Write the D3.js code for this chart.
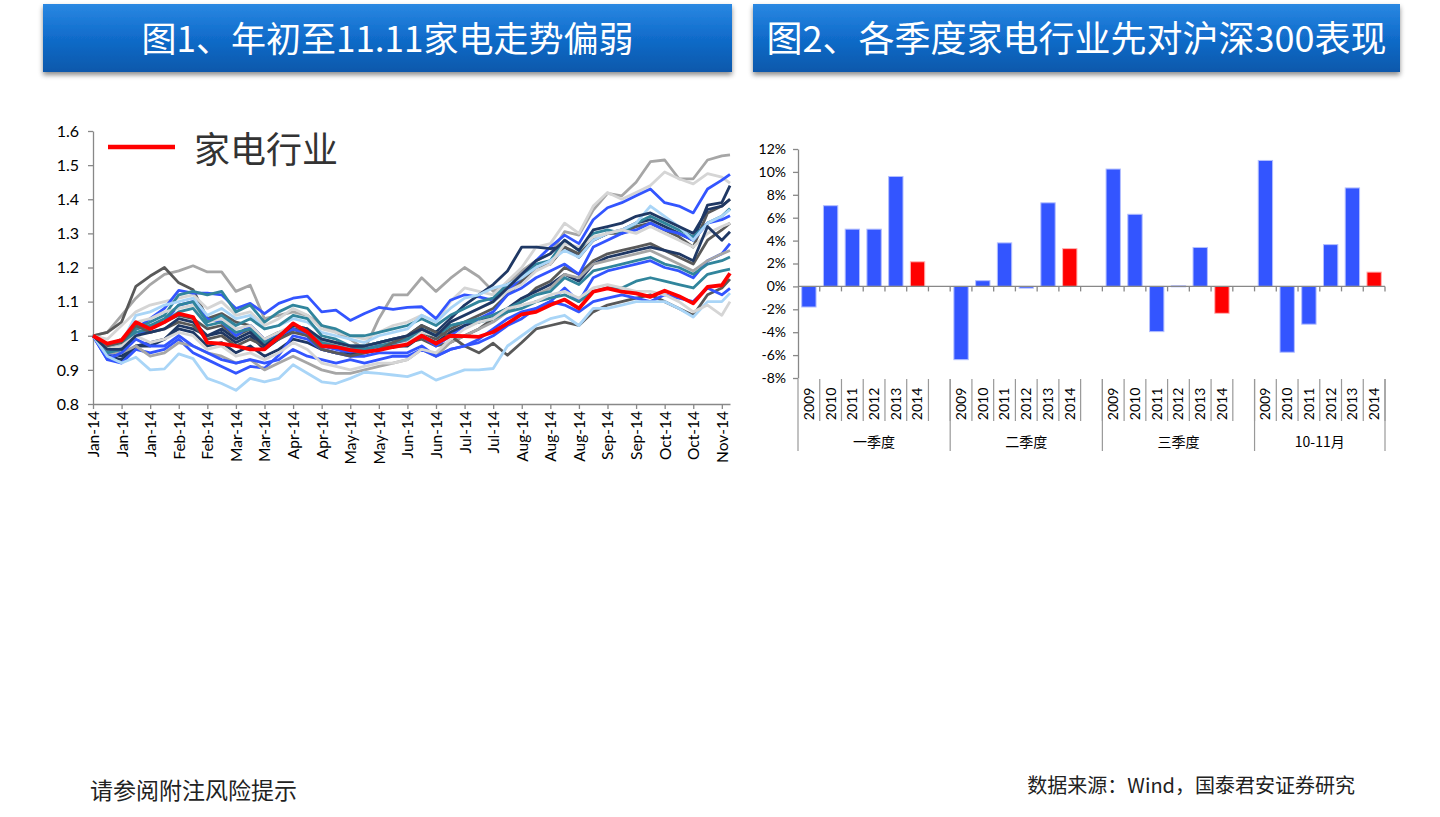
<!DOCTYPE html>
<html>
<head>
<meta charset="utf-8">
<script src="https://cdn.jsdelivr.net/npm/d3@7"></script>
<style>
  body { margin: 0; background: #fff; }
  svg { display: block; }
  .num { font-family: Lato, "Noto Sans", sans-serif; }
  .cjk { font-family: "Noto Sans CJK SC", sans-serif; }
</style>
</head>
<body>
<div id="vis"></div>
<script>
// ---- chart 1 data: weekly index, 2014-01-03 .. 2014-11-11 ----
const weekDates = [
  "2014-01-03","2014-01-10","2014-01-17","2014-01-24","2014-01-31","2014-02-07","2014-02-14","2014-02-21",
  "2014-02-28","2014-03-07","2014-03-14","2014-03-21","2014-03-28","2014-04-04","2014-04-11","2014-04-18",
  "2014-04-25","2014-05-02","2014-05-09","2014-05-16","2014-05-23","2014-05-30","2014-06-06","2014-06-13",
  "2014-06-20","2014-06-27","2014-07-04","2014-07-11","2014-07-18","2014-07-25","2014-08-01","2014-08-08",
  "2014-08-15","2014-08-22","2014-08-29","2014-09-05","2014-09-12","2014-09-19","2014-09-26","2014-10-03",
  "2014-10-10","2014-10-17","2014-10-24","2014-10-31","2014-11-07","2014-11-11"
];
const yTicks1 = [0.8, 0.9, 1.0, 1.1, 1.2, 1.3, 1.4, 1.5, 1.6];

const homeAppliance = [
  1.000,0.977,0.987,1.040,1.020,1.040,1.065,1.055,0.980,0.977,
  0.970,0.960,0.960,0.997,1.036,1.011,0.970,0.967,0.958,0.953,
  0.958,0.967,0.975,1.000,0.977,1.000,0.999,0.997,1.011,1.036,
  1.063,1.070,1.090,1.106,1.080,1.129,1.139,1.129,1.124,1.114,
  1.132,1.116,1.095,1.143,1.148,1.183
];

const otherSeries = [
  { color: "#a6a6a6", values: [
    1.00,1.01,1.06,1.11,1.15,1.18,1.19,1.205,1.187,1.187,
    1.13,1.148,1.05,1.06,1.07,1.06,1.03,1.01,0.99,0.96,
    1.05,1.12,1.12,1.17,1.13,1.168,1.20,1.173,1.13,1.15,
    1.19,1.22,1.24,1.305,1.295,1.368,1.417,1.41,1.45,1.51,
    1.515,1.46,1.46,1.515,1.527,1.53] },
  { color: "#595959", values: [
    1.00,1.01,1.04,1.145,1.175,1.20,1.155,1.135,1.05,1.065,
    1.04,1.03,0.99,1.01,1.02,1.01,0.99,0.98,0.97,0.96,
    0.97,0.97,0.98,0.99,0.97,0.98,1.00,1.02,1.05,1.07,
    1.10,1.14,1.16,1.20,1.18,1.22,1.24,1.25,1.26,1.27,
    1.25,1.23,1.21,1.28,1.31,1.33] },
  { color: "#d5d5d5", values: [
    1.00,0.99,1.03,1.07,1.09,1.10,1.11,1.12,1.08,1.10,
    1.06,1.07,1.03,1.05,1.08,1.06,1.02,1.01,1.00,0.99,
    1.01,1.03,1.04,1.06,1.04,1.10,1.14,1.13,1.12,1.16,
    1.20,1.26,1.27,1.33,1.30,1.38,1.42,1.40,1.42,1.44,
    1.48,1.46,1.445,1.475,1.465,1.447] },
  { color: "#3355ff", values: [
    1.00,0.95,0.97,1.02,1.05,1.08,1.133,1.125,1.125,1.12,
    1.08,1.095,1.065,1.095,1.11,1.116,1.07,1.075,1.045,1.065,
    1.083,1.077,1.083,1.085,1.05,1.104,1.12,1.114,1.104,1.13,
    1.17,1.22,1.26,1.295,1.27,1.34,1.375,1.39,1.41,1.43,
    1.39,1.38,1.36,1.43,1.456,1.473] },
  { color: "#1f3864", values: [
    1.00,0.95,0.94,0.97,0.97,0.99,1.03,1.02,1.00,1.01,
    0.98,1.00,0.96,0.99,1.02,1.01,0.98,0.97,0.96,0.97,
    0.98,0.99,1.00,1.03,1.01,1.05,1.09,1.12,1.15,1.19,
    1.26,1.26,1.255,1.26,1.23,1.28,1.30,1.31,1.33,1.34,
    1.32,1.30,1.28,1.383,1.39,1.44] },
  { color: "#595959", values: [
    1.00,0.97,0.99,1.02,1.03,1.04,1.06,1.05,1.02,1.03,
    1.00,1.02,0.98,1.00,1.02,1.01,0.98,0.97,0.96,0.96,
    0.97,0.98,0.98,1.01,0.99,1.02,1.04,1.06,1.08,1.12,
    1.16,1.20,1.21,1.26,1.24,1.28,1.30,1.30,1.32,1.33,
    1.31,1.29,1.26,1.36,1.38,1.40] },
  { color: "#31859c", values: [
    1.00,0.96,0.97,1.02,1.04,1.06,1.12,1.13,1.12,1.13,
    1.07,1.09,1.04,1.07,1.09,1.08,1.03,1.02,1.00,1.00,
    1.01,1.02,1.03,1.05,1.03,1.06,1.08,1.10,1.11,1.15,
    1.17,1.21,1.22,1.28,1.25,1.30,1.31,1.30,1.33,1.35,
    1.33,1.31,1.29,1.33,1.35,1.373] },
  { color: "#3355ff", values: [
    1.00,0.94,0.96,1.00,1.02,1.04,1.09,1.10,1.05,1.04,
    1.00,1.03,0.99,1.00,1.02,1.00,0.97,0.96,0.95,0.96,
    0.97,0.97,0.98,1.00,0.97,1.00,1.03,1.05,1.07,1.12,
    1.14,1.17,1.19,1.21,1.18,1.26,1.28,1.30,1.31,1.33,
    1.31,1.30,1.28,1.33,1.34,1.352] },
  { color: "#a9d5f7", values: [
    1.00,0.96,0.98,1.06,1.07,1.09,1.10,1.11,1.06,1.08,
    1.05,1.06,1.02,1.03,1.05,1.04,1.01,1.00,0.99,0.98,
    1.00,1.01,1.02,1.06,1.04,1.08,1.11,1.12,1.14,1.15,
    1.17,1.20,1.22,1.25,1.23,1.28,1.30,1.31,1.33,1.38,
    1.35,1.32,1.28,1.33,1.35,1.37] },
  { color: "#d5d5d5", values: [
    1.00,0.96,0.99,1.04,1.05,1.07,1.08,1.09,1.04,1.05,
    1.02,1.03,0.99,1.01,1.03,1.02,0.98,0.97,0.96,0.95,
    0.96,0.97,0.98,1.01,1.00,1.04,1.06,1.08,1.10,1.13,
    1.15,1.19,1.21,1.27,1.26,1.29,1.30,1.31,1.30,1.32,
    1.30,1.28,1.26,1.30,1.32,1.33] },
  { color: "#1f3864", values: [
    1.00,0.94,0.93,0.97,0.98,0.99,1.02,1.01,0.97,0.98,
    0.95,0.97,0.94,0.96,0.99,0.98,0.96,0.95,0.945,0.95,
    0.96,0.97,0.97,1.00,0.98,1.01,1.03,1.04,1.06,1.08,
    1.11,1.13,1.15,1.18,1.16,1.21,1.23,1.24,1.25,1.26,
    1.25,1.24,1.22,1.32,1.28,1.305] },
  { color: "#3355ff", values: [
    1.00,0.93,0.92,0.96,0.95,0.96,0.99,0.95,0.93,0.91,
    0.89,0.91,0.905,0.943,1.00,0.99,0.96,0.95,0.94,0.94,
    0.95,0.95,0.95,0.97,0.94,0.96,0.97,0.98,1.00,1.03,
    1.05,1.08,1.10,1.14,1.10,1.17,1.19,1.20,1.21,1.22,
    1.20,1.19,1.17,1.22,1.24,1.27] },
  { color: "#a6a6a6", values: [
    1.00,0.95,0.95,0.97,0.94,0.95,0.98,0.97,0.95,0.94,
    0.92,0.93,0.90,0.92,0.94,0.92,0.90,0.89,0.89,0.90,
    0.91,0.92,0.93,0.96,0.94,0.98,1.00,1.02,1.04,1.07,
    1.10,1.12,1.14,1.18,1.17,1.21,1.22,1.23,1.24,1.25,
    1.23,1.21,1.19,1.22,1.24,1.25] },
  { color: "#31859c", values: [
    1.00,0.95,0.96,1.01,1.02,1.04,1.07,1.08,1.03,1.04,
    1.01,1.02,0.98,1.00,1.03,1.02,0.98,0.97,0.96,0.96,
    0.97,0.98,0.99,1.02,1.00,1.03,1.04,1.05,1.06,1.08,
    1.10,1.12,1.13,1.17,1.15,1.19,1.20,1.21,1.22,1.23,
    1.21,1.20,1.18,1.21,1.22,1.231] },
  { color: "#31859c", values: [
    1.00,0.96,0.97,1.02,1.03,1.05,1.09,1.10,1.04,1.06,
    1.03,1.05,1.02,1.03,1.06,1.05,1.00,0.99,0.97,0.97,
    0.98,0.99,0.99,1.02,1.00,1.03,1.04,1.04,1.05,1.07,
    1.08,1.10,1.11,1.12,1.10,1.13,1.14,1.14,1.16,1.17,
    1.16,1.15,1.14,1.18,1.19,1.195] },
  { color: "#595959", values: [
    1.00,0.97,0.98,1.03,1.01,1.02,1.04,1.03,0.99,1.00,
    0.97,0.99,0.97,0.99,1.01,1.00,0.96,0.95,0.94,0.95,
    0.96,0.98,1.00,1.03,1.01,1.00,0.97,0.95,0.978,0.943,
    0.98,1.02,1.03,1.04,1.03,1.07,1.09,1.10,1.11,1.12,
    1.10,1.08,1.06,1.12,1.14,1.166] },
  { color: "#3355ff", values: [
    1.00,0.93,0.95,0.99,0.97,0.97,1.00,0.97,0.95,0.93,
    0.92,0.93,0.92,0.93,0.96,0.94,0.93,0.92,0.93,0.92,
    0.93,0.94,0.94,0.96,0.94,0.96,0.97,0.99,1.02,1.05,
    1.07,1.08,1.10,1.09,1.07,1.10,1.11,1.12,1.11,1.10,
    1.12,1.11,1.10,1.14,1.12,1.139] },
  { color: "#a9d5f7", values: [
    1.00,0.94,0.92,0.937,0.90,0.903,0.947,0.933,0.875,0.86,
    0.84,0.875,0.865,0.875,0.915,0.89,0.865,0.86,0.875,0.893,
    0.89,0.885,0.88,0.894,0.87,0.885,0.90,0.90,0.904,0.97,
    1.00,1.03,1.05,1.06,1.03,1.08,1.08,1.09,1.10,1.10,
    1.10,1.08,1.055,1.10,1.10,1.125] },
  { color: "#d5d5d5", values: [
    1.00,0.96,0.97,1.00,0.98,0.99,1.01,1.00,0.96,0.97,
    0.94,0.95,0.93,0.95,0.98,0.96,0.92,0.91,0.90,0.91,
    0.92,0.92,0.93,0.96,0.95,0.99,1.02,1.04,1.05,1.08,
    1.09,1.10,1.12,1.13,1.11,1.14,1.15,1.14,1.13,1.13,
    1.12,1.10,1.07,1.09,1.06,1.10] },
  { color: "#1f3864", values: [
    1.00,0.96,0.96,1.00,1.01,1.02,1.05,1.04,1.00,1.02,
    0.99,1.01,0.97,1.00,1.03,1.02,0.99,0.98,0.97,0.97,
    0.98,0.99,1.00,1.02,1.00,1.04,1.06,1.08,1.10,1.14,
    1.18,1.22,1.24,1.28,1.25,1.31,1.32,1.33,1.35,1.36,
    1.34,1.32,1.30,1.37,1.38,1.40] }
];

// ---- chart 2 data: quarterly excess return vs CSI300 ----
const groups = ["一季度", "二季度", "三季度", "10-11月"];
const years = ["2009", "2010", "2011", "2012", "2013", "2014"];
const q1Excess = [-1.8, 7.05, 5.0, 5.0, 9.6, 2.15];
const q2Excess = [-6.4, 0.5, 3.8, -0.15, 7.3, 3.3];
const q3Excess = [10.25, 6.3, -3.95, 0.05, 3.4, -2.35];
const octNovExcess = [11.0, -5.75, -3.3, 3.65, 8.6, 1.25];
const yTicks2 = [-8, -6, -4, -2, 0, 2, 4, 6, 8, 10, 12];

const svg = d3.select("#vis").append("svg")
    .attr("width", 1440)
    .attr("height", 817);

const defs = svg.append("defs");
const grad = defs.append("linearGradient")
    .attr("id", "bannerGrad")
    .attr("x1", 0).attr("y1", 0).attr("x2", 0).attr("y2", 1);
grad.append("stop").attr("offset", "0%").attr("stop-color", "#2a88e2");
grad.append("stop").attr("offset", "45%").attr("stop-color", "#126ecd");
grad.append("stop").attr("offset", "100%").attr("stop-color", "#0a58ab");
const shadow = defs.append("filter").attr("id", "shadow")
    .attr("x", "-5%").attr("y", "-20%").attr("width", "110%").attr("height", "150%");
shadow.append("feDropShadow")
    .attr("dx", 0).attr("dy", 3).attr("stdDeviation", 2.5)
    .attr("flood-color", "#000").attr("flood-opacity", 0.45);

// ---- title banners ----
const banners = [
    { x: 43, w: 689, size: 35, text: "图1、年初至11.11家电走势偏弱" },
    { x: 753, w: 647, size: 36, text: "图2、各季度家电行业先对沪深300表现" }
];
banners.forEach(b => {
    svg.append("rect")
        .attr("x", b.x).attr("y", 4)
        .attr("width", b.w).attr("height", 68)
        .attr("fill", "url(#bannerGrad)")
        .attr("filter", "url(#shadow)");
    svg.append("text")
        .attr("class", "cjk")
        .attr("x", b.x + b.w / 2)
        .attr("y", 52)
        .attr("text-anchor", "middle")
        .style("font-size", b.size + "px")
        .attr("fill", "#fff")
        .text(b.text);
});

// ---- chart 1: lines ----
const parseDate = d3.timeParse("%Y-%m-%d");
const dates = weekDates.map(parseDate);
const tickDates = dates.filter((d, i) => i % 2 === 0 && i < 45);

const x1 = d3.scaleTime()
    .domain([dates[0], dates[dates.length - 1]])
    .range([93, 730]);
const y1 = d3.scaleLinear().domain([0.8, 1.6]).range([404, 131]);

const g1 = svg.append("g");

const xAxis1 = g1.append("g")
    .attr("class", "num")
    .attr("transform", "translate(0,404)")
    .call(d3.axisBottom(x1).tickValues(tickDates).tickSize(5).tickSizeOuter(0)
        .tickFormat(d3.timeFormat("%b-%y")));
xAxis1.selectAll("text")
    .attr("transform", "rotate(-90)")
    .attr("x", -7).attr("y", 0).attr("dy", "0.35em")
    .style("text-anchor", "end")
    .style("font-size", "15.5px")
    .attr("fill", "#000");

const yAxis1 = g1.append("g")
    .attr("class", "num")
    .attr("transform", "translate(93,0)")
    .call(d3.axisLeft(y1).tickValues(yTicks1).tickSize(5).tickSizeOuter(0).tickPadding(9)
        .tickFormat(d => d === 1 ? "1" : d3.format(".1f")(d)));
yAxis1.selectAll("text").style("font-size", "16px").attr("fill", "#000");

[xAxis1, yAxis1].forEach(a => {
    a.select(".domain").attr("stroke", "#888").attr("stroke-width", 1.3);
    a.selectAll(".tick line").attr("stroke", "#888").attr("stroke-width", 1.3);
    a.attr("font-family", null);
});

const line1 = d3.line()
    .x((d, i) => x1(dates[i]))
    .y(d => y1(d));

g1.selectAll(".other")
    .data(otherSeries)
    .enter()
    .append("path")
    .attr("class", "other")
    .attr("d", d => line1(d.values))
    .attr("fill", "none")
    .attr("stroke", d => d.color)
    .attr("stroke-width", 2.8)
    .attr("stroke-linejoin", "round");

g1.append("path")
    .attr("d", line1(homeAppliance))
    .attr("fill", "none")
    .attr("stroke", "#ff0000")
    .attr("stroke-width", 3.8)
    .attr("stroke-linejoin", "round");

// legend
g1.append("line")
    .attr("x1", 108).attr("x2", 175)
    .attr("y1", 147).attr("y2", 147)
    .attr("stroke", "#ff0000")
    .attr("stroke-width", 4.5);
g1.append("text")
    .attr("class", "cjk")
    .attr("x", 194).attr("y", 163)
    .style("font-size", "36px")
    .attr("fill", "#333")
    .text("家电行业");

// ---- chart 2: bars ----
const groupValues = [q1Excess, q2Excess, q3Excess, octNovExcess];
const slots = [];
groups.forEach((g, gi) => {
    years.forEach((yr, yi) => {
        slots.push({ key: g + "|" + yr, group: g, year: yr, value: groupValues[gi][yi] });
    });
    if (gi < groups.length - 1) slots.push({ key: g + "|gap", group: g, year: null, value: null });
});

const x2 = d3.scaleBand()
    .domain(slots.map(d => d.key))
    .range([798, 1385])
    .paddingInner(0.34)
    .paddingOuter(0.17);
const step = x2.step();
const slotLeft = key => x2(key) - (step - x2.bandwidth()) / 2;

const y2 = d3.scaleLinear().domain([-8, 12]).range([378, 149]);

const g2 = svg.append("g");

const yAxis2 = g2.append("g")
    .attr("class", "num")
    .attr("transform", "translate(798,0)")
    .call(d3.axisLeft(y2).tickValues(yTicks2).tickSize(5).tickSizeOuter(0).tickPadding(7)
        .tickFormat(d => d + "%"));
yAxis2.attr("font-family", null);
yAxis2.selectAll("text").style("font-size", "14px").attr("fill", "#000");
yAxis2.select(".domain").attr("stroke", "#888").attr("stroke-width", 1.3);
yAxis2.selectAll(".tick line").attr("stroke", "#888").attr("stroke-width", 1.3);

g2.selectAll(".bar")
    .data(slots.filter(d => d.value !== null))
    .enter()
    .append("rect")
    .attr("class", "bar")
    .attr("x", d => x2(d.key))
    .attr("width", x2.bandwidth())
    .attr("y", d => Math.min(y2(d.value), y2(0)))
    .attr("height", d => Math.max(1, Math.abs(y2(d.value) - y2(0))))
    .attr("fill", d => d.year === "2014" ? "#ff0000" : "#3355ff")
    .attr("stroke", d => d.year === "2014" ? "#ffb3b3" : "#b3bfff")
    .attr("stroke-width", 1);

// zero line with slot ticks
const zeroY = y2(0);
g2.append("line")
    .attr("x1", 798).attr("x2", 1385)
    .attr("y1", zeroY).attr("y2", zeroY)
    .attr("stroke", "#888").attr("stroke-width", 1.3);
const boundaries = slots.slice(1).map(d => slotLeft(d.key)).concat([1385]);
g2.selectAll(".ztick")
    .data(boundaries)
    .enter()
    .append("line")
    .attr("x1", d => d).attr("x2", d => d)
    .attr("y1", zeroY).attr("y2", zeroY + 5)
    .attr("stroke", "#888").attr("stroke-width", 1.3);

// multi-level category labels
g2.selectAll(".sep")
    .data(boundaries)
    .enter()
    .append("line")
    .attr("x1", d => d).attr("x2", d => d)
    .attr("y1", 379).attr("y2", 421)
    .attr("stroke", "#999").attr("stroke-width", 1.2);

const groupEdges = [798].concat(slots.filter(d => d.year === null).map(d => slotLeft(d.key) + step), [1385]);
g2.selectAll(".gsep")
    .data(groupEdges)
    .enter()
    .append("line")
    .attr("x1", d => d).attr("x2", d => d)
    .attr("y1", 379).attr("y2", 451)
    .attr("stroke", "#999").attr("stroke-width", 1.2);

g2.selectAll(".yearLabel")
    .data(slots.filter(d => d.year !== null))
    .enter()
    .append("text")
    .attr("class", "num")
    .attr("transform", d => `translate(${x2(d.key) + x2.bandwidth() / 2},404) rotate(-90)`)
    .attr("text-anchor", "middle")
    .attr("dy", "0.35em")
    .style("font-size", "14px")
    .attr("fill", "#000")
    .text(d => d.year);

g2.selectAll(".groupLabel")
    .data(groups)
    .enter()
    .append("text")
    .attr("class", "cjk")
    .attr("x", (d, i) => (groupEdges[i] + groupEdges[i + 1]) / 2)
    .attr("y", 447)
    .attr("text-anchor", "middle")
    .style("font-size", "14px")
    .attr("fill", "#000")
    .text(d => d);

// ---- footer ----
svg.append("text")
    .attr("class", "cjk")
    .attr("x", 90).attr("y", 799)
    .style("font-size", "23px")
    .attr("fill", "#222")
    .text("请参阅附注风险提示");
svg.append("text")
    .attr("class", "cjk")
    .attr("x", 1355).attr("y", 793)
    .attr("text-anchor", "end")
    .style("font-size", "20px")
    .attr("fill", "#222")
    .text("数据来源：Wind，国泰君安证券研究");
</script>
</body>
</html>
